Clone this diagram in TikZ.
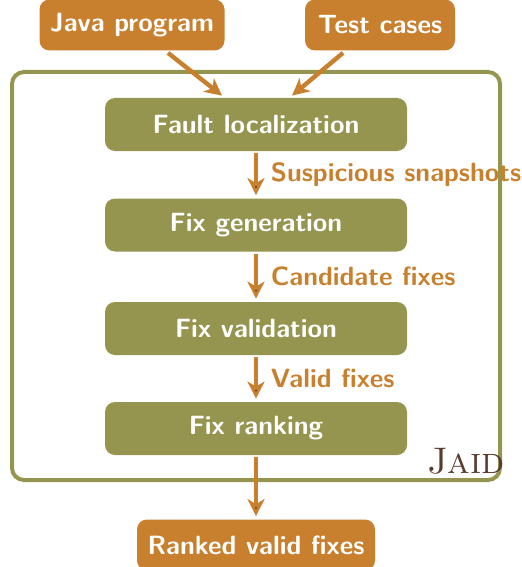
\documentclass[tikz,border=0pt]{standalone}
\usepackage{tikz}
\usetikzlibrary{arrows.meta,positioning}
\definecolor{jorange}{RGB}{200,128,46}
\definecolor{jgreen}{RGB}{149,149,80}
\definecolor{jbrown}{RGB}{90,58,44}

\begin{document}
\begin{tikzpicture}[x=0.5pt,y=-0.5pt,
  io/.style={fill=jorange,text=white,rounded corners=5pt,font=\fontsize{13.2}{15}\sffamily\bfseries,minimum height=25.5pt},
  stage/.style={fill=jgreen,text=white,rounded corners=5pt,font=\fontsize{13.2}{15}\sffamily\bfseries,minimum width=151pt,minimum height=26.5pt},
  flow/.style={draw=jorange,line width=2.2pt,-{Stealth[length=8.5pt,width=8.5pt,inset=2.5pt]}},
  lbl/.style={text=jorange,font=\fontsize{13.2}{15}\sffamily\bfseries}]
\useasboundingbox (0,0) rectangle (522,567);
\draw[jgreen,line width=2pt,rounded corners=6pt] (12,72) rectangle (500,480);
\node[io,minimum width=92.5pt] (java) at (132,25) {Java program};
\node[io,minimum width=75pt] (tests) at (380,25) {Test cases};
\node[stage] (fault) at (256,124.5) {Fault localization};
\node[stage] (gen) at (256,225) {Fix generation};
\node[stage] (val) at (256,328.5) {Fix validation};
\node[stage] (rank) at (256,428.5) {Fix ranking};
\node[io,minimum width=119pt] (ranked) at (256,545) {Ranked valid fixes};
\node[anchor=base east,font=\fontsize{18.5}{20}\selectfont,text=jbrown] (jaid) at (512,473) {\textsc{Jaid}};
\draw[flow] ([xshift=18pt,yshift=-1pt]java.south) -- ([xshift=-17pt,yshift=1pt]fault.north);
\draw[flow] ([xshift=-18.5pt,yshift=-1pt]tests.south) -- ([xshift=18pt,yshift=1pt]fault.north);
\path[flow,shorten <=1pt,shorten >=1.5pt]
(fault) edge node[lbl,right=3pt] {Suspicious snapshots} (gen)
(gen) edge node[lbl,right=3pt] {Candidate fixes} (val)
(val) edge node[lbl,right=3pt] {Valid fixes} (rank)
(rank) edge (ranked);
\end{tikzpicture}
\end{document}
